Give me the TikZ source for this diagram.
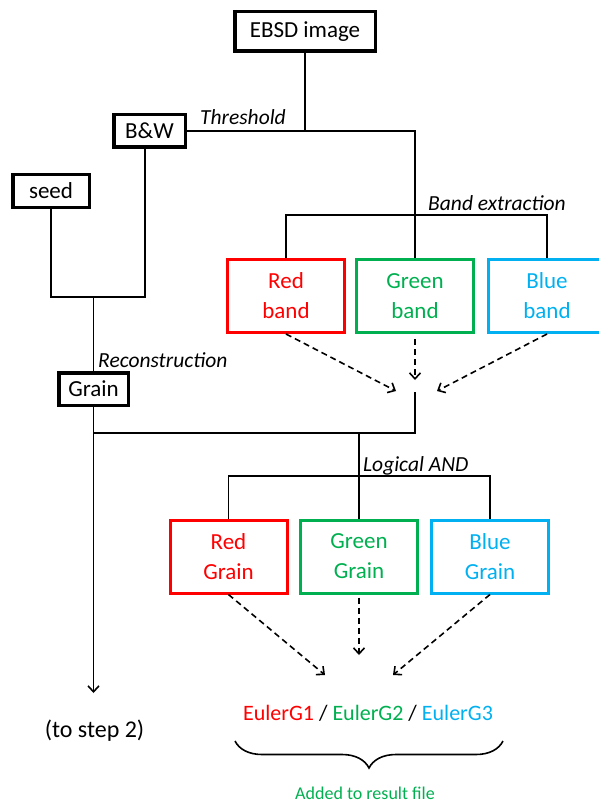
\documentclass[tikz,border=0pt]{standalone}
\usepackage{fontspec}
\setmainfont{Carlito}
\usetikzlibrary{arrows.meta,decorations.pathreplacing}
\definecolor{ored}{HTML}{FF0000}
\definecolor{ogreen}{HTML}{00B050}
\definecolor{oblue}{HTML}{00B0F0}
\begin{document}
\begin{tikzpicture}[x=1pt,y=-1pt,
  box/.style={draw=black,line width=3.5pt,inner sep=0pt,align=center,font=\fontsize{23}{29}\selectfont},
  cbox/.style={draw=#1,text=#1,line width=3pt,minimum width=117pt,minimum height=73pt,inner sep=0pt,align=center,font=\fontsize{23}{30}\selectfont},
  conn/.style={line width=1.6pt},
  dasharrow/.style={line width=1.6pt,dash pattern=on 6pt off 4pt,-{Straight Barb[length=6pt,width=11pt,line width=1.6pt]}},
  lab/.style={font=\itshape\fontsize{21.5}{25}\selectfont,inner sep=0pt,anchor=base west}]
\useasboundingbox (0,0) rectangle (598,805);
% black boxes
\node[box,minimum width=140.5pt,minimum height=39.5pt] (ebsd) at (305,31.5) {EBSD image};
\node[box,minimum width=71.5pt,minimum height=32.5pt] (bw) at (149.5,131) {B\&W};
\node[box,minimum width=76.5pt,minimum height=32.5pt] (seed) at (51,191) {seed};
\node[box,minimum width=69.5pt,minimum height=32.5pt] (grain) at (93.5,389) {Grain};
% band boxes
\node[cbox=ored] (rb) at (286,296) {Red\\band};
\node[cbox=ogreen] (gb) at (415,296) {Green\\band};
\node[cbox=oblue] (bb) at (547,296) {Blue\\band};
% grain boxes
\node[cbox=ored] (rg) at (228.5,556.5) {Red\\Grain};
\node[cbox=ogreen] (gg) at (359,556.5) {Green\\Grain};
\node[cbox=oblue] (bg) at (490,556.5) {Blue\\Grain};
% junctions
\coordinate (t1) at (305,131);
\coordinate (t2) at (415,131);
\coordinate (bj) at (415,215);
\coordinate (j1) at (93.5,297);
\coordinate (j2) at (415,433);
\coordinate (j3) at (415,392);
\coordinate (j4) at (359,433);
\coordinate (j5) at (359,476);
\coordinate (arr) at (93.5,693);
\coordinate (ra) at (396,391);
\coordinate (ga) at (415,380);
\coordinate (ba) at (437,391);
\coordinate (rga) at (325,675);
\coordinate (gga) at (359,655);
\coordinate (bga) at (393,675);
% connectors
\draw[conn] (ebsd.south) -- (t1);
\draw[conn] (bw.east) -- (t2) -- (gb.north);
\draw[conn] (rb.north) -- (rb.north |- bj) -- (bb.north |- bj) -- (bb.north);
\draw[conn] (seed.south) -- (seed.south |- j1) -- ([xshift=-4.5pt]bw.south |- j1) -- ([xshift=-4.5pt]bw.south);
\draw[conn] (j1) -- (grain.north);
\draw[conn,-{Straight Barb[length=6pt,width=11pt,line width=1.6pt]}] (grain.south) -- (arr);
\draw[conn] (grain.south |- j2) -- (j2) -- (j3);
\draw[conn] (j4) -- (gg.north);
\draw[conn] (rg.north) -- (rg.north |- j5) -- (bg.north |- j5) -- (bg.north);
\draw[dasharrow] (rb.south) -- (ra);
\draw[dasharrow,shorten <=5pt] (gb.south) -- (ga);
\draw[dasharrow] (bb.south) -- (ba);
\draw[dasharrow] (rg.south) -- (rga);
\draw[dasharrow,shorten <=3pt] (gg.south) -- (gga);
\draw[dasharrow] (bg.south) -- (bga);
% labels
\node[lab] (thr) at (200,125) {Threshold};
\node[lab] (bex) at (428,210) {Band extraction};
\node[lab] (rec) at (98,367) {Reconstruction};
\node[lab] (land) at (363,471) {Logical AND};
% bottom
\node[font=\fontsize{24}{28}\selectfont] (step) at (94.5,731) {(to step 2)};
\node[font=\fontsize{22}{26}\selectfont] (euler) at (368,713) {\textcolor{ored}{EulerG1} / \textcolor{ogreen}{EulerG2} / \textcolor{oblue}{EulerG3}};
\draw[line width=1.6pt,decorate,decoration={brace,amplitude=27pt,mirror}] (235,741) -- (503,741);
\node[font=\fontsize{18}{22}\selectfont,text=ogreen] (added) at (365,793) {Added to result file};
\end{tikzpicture}
\end{document}
